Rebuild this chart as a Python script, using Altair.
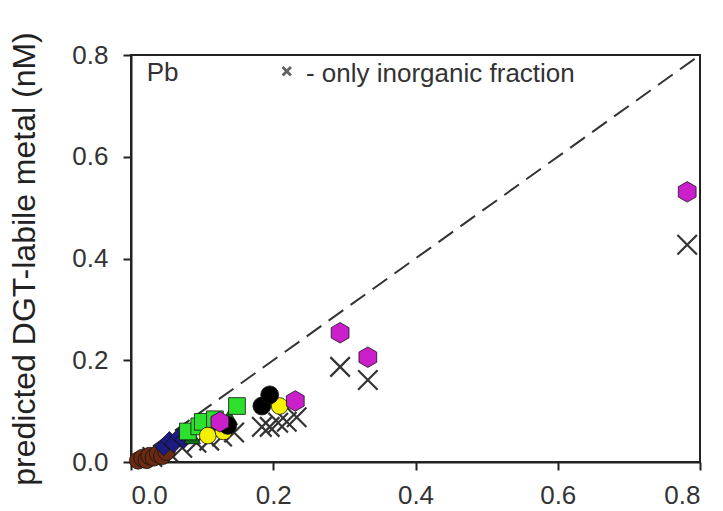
import altair as alt
import pandas as pd

# Measured vs predicted DGT-labile Pb (nM), one group per sampling series
brown_x = [0.010, 0.016, 0.022, 0.026, 0.032, 0.038, 0.044, 0.050]
brown_y = [0.003, 0.008, 0.004, 0.012, 0.009, 0.016, 0.012, 0.020]

navy_x = [0.046, 0.054, 0.060, 0.068, 0.074]
navy_y = [0.030, 0.042, 0.036, 0.050, 0.044]

green_x = [0.080, 0.096, 0.101, 0.118, 0.149]
green_y = [0.060, 0.070, 0.079, 0.084, 0.110]

dkgreen_x = [0.086, 0.112, 0.138]
dkgreen_y = [0.050, 0.064, 0.088]

yellow_x = [0.108, 0.130, 0.209]
yellow_y = [0.052, 0.060, 0.110]

black_x = [0.136, 0.184, 0.195]
black_y = [0.072, 0.110, 0.132]

magenta_x = [0.125, 0.231, 0.294, 0.333, 0.782]
magenta_y = [0.079, 0.120, 0.254, 0.206, 0.531]

# Predictions using only the inorganic fraction
inorg_x = [0.030, 0.052, 0.072, 0.092, 0.110, 0.128, 0.145, 0.184, 0.195, 0.207, 0.219, 0.233, 0.294, 0.333, 0.782]
inorg_y = [0.010, 0.020, 0.028, 0.038, 0.042, 0.050, 0.058, 0.069, 0.069, 0.077, 0.079, 0.088, 0.187, 0.161, 0.427]

hexagon = "M0,-1L0.866,-0.5L0.866,0.5L0,1L-0.866,0.5L-0.866,-0.5Z"
xmark = "M-1,-1L1,1M-1,1L1,-1"

groups = [
    ("brown", brown_x, brown_y, "circle", "#6b2a12", 300),
    ("navy", navy_x, navy_y, "diamond", "#1c1c80", 330),
    ("dkgreen", dkgreen_x, dkgreen_y, "triangle-up", "#0b6b12", 280),
    ("green", green_x, green_y, "square", "#2ee02e", 280),
    ("yellow", yellow_x, yellow_y, "circle", "#f4f000", 280),
    ("black", black_x, black_y, "circle", "#000000", 320),
    ("magenta", magenta_x, magenta_y, hexagon, "#cc1fcc", 420),
]

scale_x = alt.Scale(domain=[0, 0.8], nice=False, zero=False)
scale_y = alt.Scale(domain=[0, 0.8], nice=False, zero=False)
ticks = [0.0, 0.2, 0.4, 0.6, 0.8]

ref = pd.DataFrame({"x": [0.0, 0.8], "y": [0.0, 0.8]})
one_to_one = alt.Chart(ref).mark_line(
    color="#333333", strokeWidth=2, strokeDash=[18, 9]
).encode(
    x=alt.X("x:Q", scale=scale_x,
            axis=alt.Axis(values=ticks, format=".1f", title=None)),
    y=alt.Y("y:Q", scale=scale_y,
            axis=alt.Axis(values=ticks, format=".1f", labelPadding=15,
                          title="predicted DGT-labile metal (nM)")),
)

layers = [one_to_one]

inorg = pd.DataFrame({"x": inorg_x, "y": inorg_y})
layers.append(
    alt.Chart(inorg).mark_point(
        shape=xmark, size=380, filled=False, stroke="#333333", strokeWidth=2.2, opacity=1
    ).encode(x=alt.X("x:Q", scale=scale_x), y=alt.Y("y:Q", scale=scale_y))
)

for name, gx, gy, shape, color, size in groups:
    df = pd.DataFrame({"x": gx, "y": gy})
    layers.append(
        alt.Chart(df).mark_point(
            shape=shape, size=size, filled=True, fill=color,
            stroke="#111111", strokeWidth=0.8, opacity=1
        ).encode(x=alt.X("x:Q", scale=scale_x), y=alt.Y("y:Q", scale=scale_y))
    )

labels = pd.DataFrame({"x": [0.022], "y": [0.765], "t": ["Pb"]})
layers.append(
    alt.Chart(labels).mark_text(
        align="left", baseline="middle", font="Liberation Sans", fontSize=26, color="#333333"
    ).encode(x=alt.X("x:Q", scale=scale_x), y=alt.Y("y:Q", scale=scale_y), text="t:N")
)

key_mark = pd.DataFrame({"x": [0.219], "y": [0.768]})
layers.append(
    alt.Chart(key_mark).mark_point(
        shape=xmark, size=70, filled=False, stroke="#222222", strokeWidth=2.8
    ).encode(x=alt.X("x:Q", scale=scale_x), y=alt.Y("y:Q", scale=scale_y))
)
key_text = pd.DataFrame({"x": [0.246], "y": [0.762], "t": ["- only inorganic fraction"]})
layers.append(
    alt.Chart(key_text).mark_text(
        align="left", baseline="middle", font="Liberation Sans", fontSize=26, color="#333333"
    ).encode(x=alt.X("x:Q", scale=scale_x), y=alt.Y("y:Q", scale=scale_y), text="t:N")
)

chart = alt.layer(*layers).properties(
    width=569,
    height=407,
    autosize=alt.AutoSizeParams(type="none"),
    padding={"left": 131, "top": 55, "right": 23, "bottom": 49},
    background="white",
).configure_view(
    stroke="#222222", strokeWidth=2
).configure_axis(
    grid=False,
    domainColor="#222222",
    domainWidth=2,
    tickColor="#222222",
    tickWidth=2,
    tickSize=8,
    labelFont="Liberation Sans",
    labelFontSize=26,
    labelColor="#333333",
    labelPadding=12,
    titleFont="Liberation Sans",
    titleFontSize=32,
    titleFontWeight="normal",
    titleColor="#222222",
).configure_axisY(
    titlePadding=30,
)

chart.save("out.html", embed_options={"renderer": "svg", "actions": False})
